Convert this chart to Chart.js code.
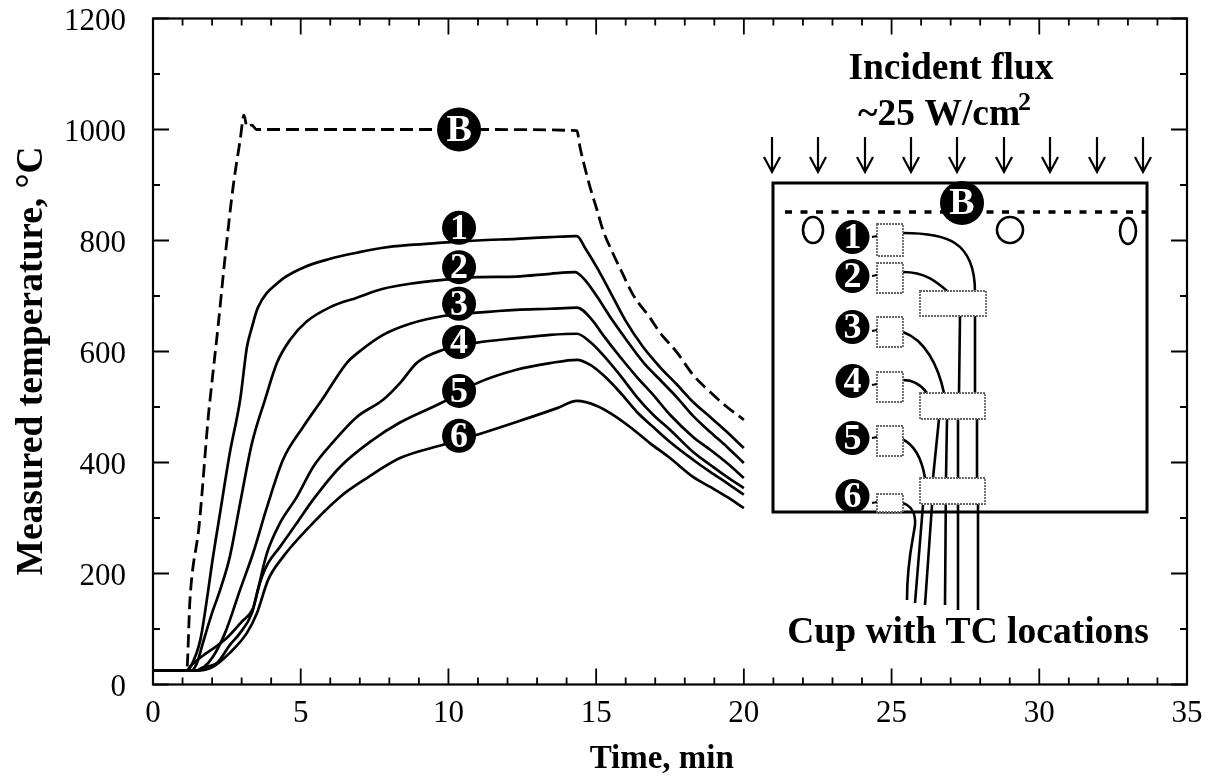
<!DOCTYPE html>
<html><head><meta charset="utf-8">
<style>html,body{margin:0;padding:0;background:#fff}canvas{display:block}</style>
<script src="https://cdn.jsdelivr.net/npm/chart.js@4"></script>
</head><body><canvas id="c" width="1214" height="783"></canvas>
<script>
const timeB=[0,1.14,1.25,1.57,1.87,1.93,2.2,2.44,2.71,2.95,3.08,3.18,3.35,3.5,5,8,11,14.35,14.45,14.62,14.8,15.03,15.23,15.54,15.88,16.25,16.82,17.16,17.74,18.28,18.86,19.43,20];
const tempB=[25,25,152,291,482,513,644,770,896,981,1026,1005,1008,1000,1000,1000,1000,998,969,931,895,855,819,780,742,702,661,634,598,558,527,500,477];
const time1=[0,1.15,1.25,1.6,1.87,2,2.27,2.6,2.95,3.18,3.35,3.55,4.23,5.08,6,6.9,7.79,8.7,9.8,10.97,12.3,13.44,14.29,14.35,14.62,15.03,15.47,15.98,16.59,17.16,17.74,18.28,18.86,19.43,20];
const temp1=[25,25,30,80,170,219,309,417,513,608,644,679,724,751,767,778,787,792,796,800,803,806,808,808,787,751,708,657,608,572,540,509,482,455,426];
const time2=[0,1.3,1.49,1.69,2,2.27,2.6,2.95,3.35,3.79,4.2,4.64,5.2,6,6.9,7.79,8.7,9.82,10.97,12.3,13.44,14.29,14.35,14.62,15.03,15.54,16.05,16.59,17.16,17.74,18.28,18.86,19.43,20];
const temp2=[25,25,39,75,129,170,230,327,435,513,580,621,654,680,697,713,722,729,734,735,740,743,742,729,699,657,619,581,549,517,484,455,428,399];
const time3=[0,1.45,1.69,2.03,2.44,2.95,3.39,3.86,4.4,5.08,5.72,6.57,6.94,7.79,8.7,9.82,10.97,12.3,13.44,14.35,14.86,15.23,15.8,16.38,16.93,17.5,18.28,18.86,19.43,20];
const temp3=[25,25,30,50,93,171,237,320,405,464,513,580,598,630,650,664,670,675,677,679,657,630,591,554,522,486,446,423,399,372];
const time4=[0,1.45,1.66,2.17,2.6,2.95,3.35,3.55,3.86,4.3,4.87,5.42,6.1,6.9,7.79,8.36,8.94,9.82,10.97,12.3,13.44,14.35,14.8,15.23,15.8,16.38,16.93,17.5,18.28,18.86,19.43,20];
const temp4=[25,25,30,39,71,93,129,171,237,291,338,392,437,482,513,543,580,603,616,624,630,632,617,594,558,518,486,459,419,396,374,354];
const time5=[0,1.15,1.25,1.82,2.2,2.54,3,3.39,3.55,3.69,3.9,4.3,4.87,5.42,6.33,7.45,8.36,9.82,10.97,12.3,13.44,14.35,14.8,15.23,15.8,16.38,16.93,17.5,18.28,18.86,19.43,20];
const temp5=[25,25,32,57,71,86,113,138,170,194,219,248,291,333,392,441,472,509,543,567,579,585,576,558,527,491,464,437,405,383,363,342];
const time6=[0,1.49,2.03,2.6,3.18,3.52,3.9,4.4,5.2,6.33,7.24,8.36,9.82,10.97,12.3,13.68,14.35,15.03,15.57,16.15,16.82,17.5,18.28,18.86,19.43,20];
const temp6=[25,25,32,57,93,129,189,230,279,338,372,408,432,450,473,498,511,502,486,464,435,408,374,356,338,318];
const markerNames=['B','1','2','3','4','5','6'];
const markerTime=[10.36,10.36,10.36,10.36,10.36,10.36,10.36];
const markerTemp=[1000,823,752,686,617,529,448];
const xTicks=[0,5,10,15,20,25,30,35];
const yTicks=[0,200,400,600,800,1000,1200];

const SERIF='"Liberation Serif","Times New Roman",serif';
const zip=(a,b)=>a.map((x,i)=>({x,y:b[i]}));
const curve=(t,v,dash)=>({data:zip(t,v),showLine:true,pointRadius:0,borderColor:'#000',borderWidth:dash?2.8:2.7,
  borderDash:dash||[],cubicInterpolationMode:'monotone',fill:false,borderCapStyle:'butt',order:2});

const frame={id:'frame',afterDatasetsDraw(ch){
  const c=ch.ctx,a=ch.chartArea,X=ch.scales.x,Y=ch.scales.y;
  c.save();c.strokeStyle='#000';c.setLineDash([]);
  c.lineWidth=2.2;c.strokeRect(a.left,a.top,a.right-a.left,a.bottom-a.top);
  c.lineWidth=1.8;c.beginPath();
  for(let v=0;v<=35;v++){const p=X.getPixelForValue(v),L=v%5?7:16;
    c.moveTo(p,a.bottom);c.lineTo(p,a.bottom-L);c.moveTo(p,a.top);c.lineTo(p,a.top+L);}
  for(let v=0;v<=1200;v+=100){const p=Y.getPixelForValue(v),L=v%200?7:16;
    c.moveTo(a.left,p);c.lineTo(a.left+L,p);c.moveTo(a.right,p);c.lineTo(a.right-L,p);}
  c.stroke();c.restore();
}};

function disc(c,x,y,r,t,size){
  c.fillStyle='#000';c.beginPath();c.arc(x,y,r,0,Math.PI*2);c.fill();
  c.fillStyle='#fff';c.font='bold '+size+'px '+SERIF;c.textAlign='center';c.textBaseline='middle';
  c.fillText(t,x,y+1.5);
}
const inset={id:'inset',afterDatasetsDraw(ch){
  const c=ch.ctx;c.save();c.strokeStyle='#000';c.fillStyle='#000';
  // labels on the curves
  const m=ch.getDatasetMeta(ch.data.datasets.length-1).data;
  m.forEach((p,i)=>{c.fillStyle='#fff';c.font='bold '+(i?36:38)+'px '+SERIF;c.textAlign='center';c.textBaseline='middle';c.fillText(markerNames[i],p.x,p.y+1.5);});
  c.fillStyle='#000';
  // heading
  c.textBaseline='alphabetic';c.textAlign='center';c.font='bold 37.5px '+SERIF;
  c.fillText('Incident flux',951,79);
  c.textAlign='left';c.fillText('~25 W/cm',858,125);
  c.font='bold 26px '+SERIF;c.fillText('2',1018,110);
  c.textAlign='center';c.font='bold 37.5px '+SERIF;c.fillText('Cup with TC locations',968,643);
  // arrows
  c.lineWidth=2.2;c.beginPath();
  [772,818,865,911,957,1004,1050,1097,1143].forEach(x=>{c.moveTo(x,137);c.lineTo(x,171);c.moveTo(x-8,157);c.lineTo(x,172);c.lineTo(x+8,157);});
  c.stroke();
  // cup
  c.lineWidth=3;c.strokeRect(773,183,374,329);
  c.lineWidth=3.4;c.setLineDash([7,8.5]);c.beginPath();c.moveTo(785,212);c.lineTo(1146,212);c.stroke();c.setLineDash([]);
  c.lineWidth=2.6;
  [[813,230,10,13],[1010,230,13,13],[1128,231,8,13]].forEach(e=>{c.beginPath();c.ellipse(e[0],e[1],e[2],e[3],0,0,Math.PI*2);c.stroke();});
  // wires
  c.lineWidth=2.6;const wire=f=>{c.beginPath();f();c.stroke();};
  wire(()=>{c.moveTo(903,233);c.bezierCurveTo(945,233,975,240,975,292);c.moveTo(975,316);c.lineTo(975,393);c.moveTo(977,419);c.lineTo(977,478);c.moveTo(978,504);c.lineTo(978,610);});
  wire(()=>{c.moveTo(903,272);c.bezierCurveTo(925,272,937,282,947,291);c.moveTo(960,316);c.lineTo(959,393);c.moveTo(958,419);c.lineTo(958,610);});
  wire(()=>{c.moveTo(903,332);c.bezierCurveTo(925,340,938,365,944,393);c.moveTo(947,419);c.lineTo(946,478);c.lineTo(945,605);});
  wire(()=>{c.moveTo(903,380);c.bezierCurveTo(915,380,922,386,927,393);c.moveTo(939,419);c.lineTo(933,478);c.moveTo(932,505);c.lineTo(925,605);});
  wire(()=>{c.moveTo(902,439);c.bezierCurveTo(915,445,922,460,925,478);c.moveTo(923,505);c.lineTo(915,603);});
  wire(()=>{c.moveTo(902,503);c.bezierCurveTo(910,505,916,512,915,525);c.bezierCurveTo(913,540,907,560,907,600);});
  // block outlines
  c.fillStyle='#fff';c.strokeStyle='#666';c.lineWidth=1.8;c.setLineDash([2,1]);
  [[877,224,26,32],[877,263,26,30],[877,317,26,30],[877,372,26,30],[877,426,26,30],[877,494,26,18],
   [920,291,66,25],[920,393,65,26],[920,478,65,26]].forEach(r=>{c.fillRect(r[0],r[1],r[2],r[3]);c.strokeRect(r[0],r[1],r[2],r[3]);});
  c.setLineDash([]);c.strokeStyle='#000';c.lineWidth=2.2;
  // small leads and numbered discs
  c.beginPath();[237,276,331,385,438,503].forEach(y=>{c.moveTo(872,y);c.lineTo(877,y-1);});c.stroke();
  disc(c,962,203,22,'B',38);
  [['1',237],['2',276],['3',327],['4',381],['5',438],['6',496]].forEach(d=>disc(c,852.5,d[1],17,d[0],36));
  c.restore();
}};

new Chart(document.getElementById('c'),{
  type:'scatter',
  data:{datasets:[
    curve(timeB,tempB,[13,6]),curve(time1,temp1),curve(time2,temp2),curve(time3,temp3),
    curve(time4,temp4),curve(time5,temp5),curve(time6,temp6),
    {data:zip(markerTime,markerTemp),showLine:false,order:1,pointStyle:'circle',
     pointRadius:markerNames.map(n=>n==='B'?22:17),pointBackgroundColor:'#000',pointBorderWidth:0}
  ]},
  options:{responsive:false,animation:false,devicePixelRatio:1,
    layout:{autoPadding:false,padding:{top:18.5,right:27,left:0,bottom:0}},
    plugins:{legend:{display:false},tooltip:{enabled:false}},
    scales:{
      x:{type:'linear',min:0,max:35,grid:{display:false},border:{display:false},
        afterBuildTicks(s){s.ticks=xTicks.map(value=>({value}));},
        afterFit(s){s.height=98.5;s.paddingLeft=0;s.paddingRight=0;},
        ticks:{autoSkip:false,maxRotation:0,padding:3,color:'#000',font:{family:SERIF,size:31},callback:v=>String(v)},
        title:{display:true,text:'Time, min  ',color:'#000',font:{family:SERIF,size:33,weight:'bold'},padding:{top:4,bottom:4}}},
      y:{type:'linear',min:0,max:1200,grid:{display:false},border:{display:false},
        afterBuildTicks(s){s.ticks=yTicks.map(value=>({value}));},
        afterFit(s){s.width=153;s.paddingTop=0;s.paddingBottom=0;},
        ticks:{autoSkip:false,padding:19,labelOffset:3,color:'#000',font:{family:SERIF,size:31},callback:v=>String(v)},
        title:{display:true,text:'Measured temperature, °C  ',color:'#000',font:{family:SERIF,size:37.5,weight:'bold'},padding:{top:10,bottom:0}}}
    }
  },
  plugins:[frame,inset]
});
</script></body></html>
